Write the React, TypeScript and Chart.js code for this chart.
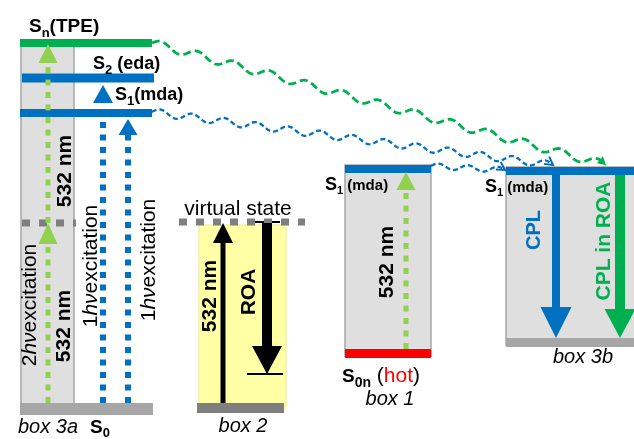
import React, { useEffect, useRef } from "react";
import { Chart, registerables } from "chart.js";

Chart.register(...registerables);

// ---------------- DATA (diagram units: x to the right, y = energy axis drawn top→bottom) ----------------
const X_MIN = 0;
const X_MAX = 634;
const Y_MIN = 0;
const Y_MAX = 439;

// Energy levels / horizontal state lines
const levelNames = [
  "Sn(TPE)", "S2 (eda)", "S1 (mda) 3a", "S0 3a", "S0 box2", "S1 box1",
  "S0n box1", "S1 box3b", "S0 box3b", "virtual 3a", "virtual box2", "ROA top", "ROA end",
];
const levelX0 = [20, 22, 20, 20, 197, 345, 345, 506, 506, 22, 179, 248, 247];
const levelX1 = [152, 154, 152, 153, 284, 431, 431, 640, 640, 76, 305, 280, 283];
const levelY = [43, 78, 113, 409, 408, 169, 353.5, 171, 342.5, 223, 222, 222, 374];

// Boxes
const boxNames = ["box 3a", "box 2", "box 1", "box 3b"];
const boxX0 = [21, 199, 345, 506];
const boxX1 = [74, 286, 431, 640];
const boxTop = [46, 225, 165, 167];
const boxBottom = [404, 408, 356, 345];

// Vertical transitions (arrows): x, start level, tip level
const arrowNames = [
  "2hv lower", "2hv upper", "1hv to S2", "1hv to S1", "532 nm box2",
  "ROA", "532 nm box1", "CPL", "CPL in ROA",
];
const arrowX = [48, 48, 103, 128, 223, 267, 406, 556, 620];
const arrowFrom = [403, 223, 403, 403, 403, 223, 349, 175, 175];
const arrowTo = [223, 44, 85, 119, 223, 374, 172, 338, 338];

// Wavy (non-radiative / transfer) connectors
const waveNames = ["Sn -> S1 box3b", "S1 mda -> S1 box3b", "S1 box1 -> S1 box3b"];
const waveX0 = [152, 152, 431];
const waveY0 = [43, 112, 166];
const waveX1 = [606, 553, 505];
const waveY1 = [165, 165, 170];
const waveCount = [12.5, 12.5, 2.5];

// Plain labels
const plainTexts = ["virtual state", "box 3a", "box 2", "box 1", "box 3b"];
const plainX = [238, 18, 243, 390, 583];
const plainY = [215, 433, 432, 405, 363];

// State labels: main letter, subscript, tail
const stateMain = ["S", "S", "S", "S", "S", "S", "S"];
const stateSub = ["n", "2", "1", "1", "1", "0", "0n"];
const stateTail = ["(TPE)", " (eda)", "(mda)", " (mda)", " (mda)", "", " ("];
const stateX = [29, 93, 115, 325, 485, 90, 342];
const stateY = [32, 69, 100, 190, 192, 433, 382];

// Rotated labels (centre positions)
const rotTexts = [
  "2hv excitation", "532 nm", "532 nm", "1hv excitation", "1hv excitation",
  "532 nm", "ROA", "532 nm", "CPL", "CPL in ROA",
];
const rotX = [28, 62, 63, 89, 147, 208, 247, 385, 533, 602];
const rotY = [305, 326, 171, 266, 260, 296, 292, 262, 230, 241];

// ---------------- STYLES ----------------
const GREEN = "#00B050";
const LGREEN = "#92D050";
const BLUE = "#0070C0";
const RED = "#FF0000";
const GRAY = "#A6A6A6";
const DGRAY = "#7F7F7F";
const FONT = '"Liberation Sans", Arial, sans-serif';

const levelStyle = [
  { c: GREEN, w: 8 }, { c: BLUE, w: 9 }, { c: BLUE, w: 8 }, { c: GRAY, w: 12 },
  { c: DGRAY, w: 10 }, { c: BLUE, w: 8 }, { c: RED, w: 9 }, { c: BLUE, w: 8 },
  { c: GRAY, w: 9 }, { c: DGRAY, w: 7, dash: [8, 9] }, { c: DGRAY, w: 7, dash: [8, 9] },
  { c: "#000", w: 2 }, { c: "#000", w: 2 },
];
const boxStyle = [
  { fill: "#DFDFDF", border: GRAY },
  { fill: "#FFFFA6", border: "#F2F2B0" },
  { fill: "#DFDFDF", border: GRAY },
  { fill: "#DFDFDF", border: GRAY },
];
const arrowStyle = [
  { c: LGREEN, w: 5, dash: [6, 6.5], hl: 21, hw: 19 },
  { c: LGREEN, w: 5, dash: [6, 6.5], hl: 19, hw: 19 },
  { c: BLUE, w: 6, dash: [6, 6.5], hl: 18, hw: 20 },
  { c: BLUE, w: 6, dash: [6, 6.5], hl: 16, hw: 19 },
  { c: "#000", w: 5, hl: 20, hw: 20 },
  { c: "#000", w: 10, hl: 28, hw: 30 },
  { c: LGREEN, w: 5, dash: [6, 6.5], hl: 18, hw: 19 },
  { c: BLUE, w: 8, hl: 31, hw: 31 },
  { c: GREEN, w: 10, hl: 29, hw: 31 },
];
const waveStyle = [
  { c: GREEN, w: 2.8, dash: [8, 4], amp: 4, head: "fill" },
  { c: BLUE, w: 2.3, dash: [5, 3], amp: 3.6, head: "open" },
  { c: BLUE, w: 2.3, dash: [5, 3], amp: 2.8, head: "open" },
];
const stateStyle = [
  { s: 19, sub: 13, t: 19, dy: 5 },
  { s: 18, sub: 13, t: 18, dy: 5 },
  { s: 18, sub: 13, t: 18, dy: 5 },
  { s: 18, sub: 11, t: 15, dy: 4 },
  { s: 18, sub: 11, t: 15, dy: 4 },
  { s: 19, sub: 13, t: 19, dy: 4 },
  { s: 19, sub: 14, t: 21, dy: 5 },
];
const plainStyle = [
  { size: 21, italic: false },
  { size: 20, italic: true },
  { size: 20, italic: true },
  { size: 20, italic: true },
  { size: 20, italic: true },
];
const rotStyle = [
  { size: 21, bold: false, c: "#000", hv: true },
  { size: 21, bold: true, c: "#000" },
  { size: 21, bold: true, c: "#000" },
  { size: 21, bold: false, c: "#000", hv: true },
  { size: 21, bold: false, c: "#000", hv: true },
  { size: 21, bold: true, c: "#000" },
  { size: 21, bold: true, c: "#000" },
  { size: 21, bold: true, c: "#000" },
  { size: 20, bold: true, c: BLUE },
  { size: 21, bold: true, c: GREEN },
];

type Seg = { t: string; font: string; color?: string; dy?: number };

function drawSegs(ctx: CanvasRenderingContext2D, segs: Seg[], x: number, y: number, center: boolean, rot = 0, vshift = 0) {
  ctx.save();
  ctx.translate(x, y);
  if (rot) ctx.rotate(rot);
  ctx.textAlign = "left";
  ctx.textBaseline = "alphabetic";
  let total = 0;
  const widths = segs.map((s) => {
    ctx.font = s.font;
    const w = ctx.measureText(s.t).width;
    total += w;
    return w;
  });
  let cx = center ? -total / 2 : 0;
  segs.forEach((s, i) => {
    ctx.font = s.font;
    ctx.fillStyle = s.color || "#000";
    ctx.fillText(s.t, cx, (s.dy || 0) + vshift);
    cx += widths[i];
  });
  ctx.restore();
}

const f = (size: number, bold = false, italic = false) =>
  `${italic ? "italic " : ""}${bold ? "bold " : ""}${size}px ${FONT}`;

const diagramPlugin = {
  id: "diagram",
  beforeDatasetsDraw(chart: any) {
    const ctx: CanvasRenderingContext2D = chart.ctx;
    const xs = chart.scales.x, ys = chart.scales.y;
    ctx.save();
    boxNames.forEach((_, i) => {
      const x0 = xs.getPixelForValue(boxX0[i]);
      const x1 = xs.getPixelForValue(boxX1[i]);
      const y0 = ys.getPixelForValue(boxTop[i]);
      const y1 = ys.getPixelForValue(boxBottom[i]);
      ctx.fillStyle = boxStyle[i].fill;
      ctx.fillRect(x0, y0, x1 - x0, y1 - y0);
      ctx.strokeStyle = boxStyle[i].border;
      ctx.lineWidth = 1.5;
      ctx.strokeRect(x0, y0, x1 - x0, y1 - y0);
    });
    ctx.restore();
  },
  afterDatasetsDraw(chart: any) {
    const ctx: CanvasRenderingContext2D = chart.ctx;
    const xs = chart.scales.x, ys = chart.scales.y;
    ctx.save();
    // arrow heads
    arrowNames.forEach((_, i) => {
      const st = arrowStyle[i];
      const x = xs.getPixelForValue(arrowX[i]);
      const tip = ys.getPixelForValue(arrowTo[i]);
      const dir = Math.sign(ys.getPixelForValue(arrowTo[i]) - ys.getPixelForValue(arrowFrom[i]));
      const base = tip - dir * st.hl;
      ctx.beginPath();
      ctx.moveTo(x, tip);
      ctx.lineTo(x - st.hw / 2, base);
      ctx.lineTo(x + st.hw / 2, base);
      ctx.closePath();
      ctx.fillStyle = st.c;
      ctx.fill();
    });
    // wavy connectors
    waveNames.forEach((_, i) => {
      const st = waveStyle[i];
      const N = 500;
      const pts: [number, number][] = [];
      for (let k = 0; k <= N; k++) {
        const t = k / N;
        const x = waveX0[i] + (waveX1[i] - waveX0[i]) * t;
        const y = waveY0[i] + (waveY1[i] - waveY0[i]) * t - st.amp * Math.sin(2 * Math.PI * waveCount[i] * t);
        pts.push([xs.getPixelForValue(x), ys.getPixelForValue(y)]);
      }
      ctx.save();
      ctx.setLineDash(st.dash);
      ctx.lineWidth = st.w;
      ctx.strokeStyle = st.c;
      ctx.beginPath();
      pts.forEach((p, k) => (k ? ctx.lineTo(p[0], p[1]) : ctx.moveTo(p[0], p[1])));
      ctx.stroke();
      ctx.setLineDash([]);
      const [ex, ey] = pts[N];
      const [bx, by] = pts[N - 6];
      const a = Math.atan2(ey - by, ex - bx);
      const L = 8, W = 4.5;
      const lx = ex - L * Math.cos(a), ly = ey - L * Math.sin(a);
      const nx = -Math.sin(a), ny = Math.cos(a);
      ctx.beginPath();
      ctx.moveTo(lx + nx * W, ly + ny * W);
      ctx.lineTo(ex, ey);
      ctx.lineTo(lx - nx * W, ly - ny * W);
      if (st.head === "fill") {
        ctx.closePath();
        ctx.fillStyle = st.c;
        ctx.fill();
      } else {
        ctx.lineWidth = 2;
        ctx.stroke();
      }
      ctx.restore();
    });
    // plain labels
    plainTexts.forEach((t, i) => {
      const st = plainStyle[i];
      drawSegs(ctx, [{ t, font: f(st.size, false, st.italic) }],
        xs.getPixelForValue(plainX[i]), ys.getPixelForValue(plainY[i]), i !== 1);
    });
    // state labels
    stateMain.forEach((m, i) => {
      const st = stateStyle[i];
      const segs: Seg[] = [
        { t: m, font: f(st.s, true) },
        { t: stateSub[i], font: f(st.sub, true), dy: st.dy },
      ];
      if (i === 6) {
        segs.push({ t: stateTail[i], font: f(st.t) });
        segs.push({ t: "hot", font: f(st.t), color: RED });
        segs.push({ t: ")", font: f(st.t) });
      } else if (stateTail[i]) {
        segs.push({ t: stateTail[i], font: f(st.t, true) });
      }
      drawSegs(ctx, segs, xs.getPixelForValue(stateX[i]), ys.getPixelForValue(stateY[i]), false);
    });
    // rotated labels
    rotTexts.forEach((t, i) => {
      const st = rotStyle[i];
      let segs: Seg[];
      if (st.hv) {
        const lead = t.slice(0, 1);
        segs = [
          { t: lead, font: f(st.size) },
          { t: "h\u03BD", font: f(st.size, false, true) },
          { t: "excitation", font: f(st.size) },
        ];
      } else {
        segs = [{ t, font: f(st.size, st.bold), color: st.c }];
      }
      drawSegs(ctx, segs, xs.getPixelForValue(rotX[i]), ys.getPixelForValue(rotY[i]), true, -Math.PI / 2, st.size * 0.36);
    });
    ctx.restore();
  },
};

export default function App() {
  const ref = useRef<HTMLCanvasElement | null>(null);
  useEffect(() => {
    document.body.style.margin = "0";
    if (!ref.current) return;
    const datasets: any[] = [];
    levelNames.forEach((name, i) => {
      const st: any = levelStyle[i];
      datasets.push({
        label: name,
        data: [{ x: levelX0[i], y: levelY[i] }, { x: levelX1[i], y: levelY[i] }],
        showLine: true,
        borderColor: st.c,
        borderWidth: st.w,
        borderDash: st.dash || [],
        borderCapStyle: "butt",
        pointRadius: 0,
        fill: false,
        order: 3,
      });
    });
    arrowNames.forEach((name, i) => {
      const st: any = arrowStyle[i];
      const dir = Math.sign(arrowTo[i] - arrowFrom[i]);
      datasets.push({
        label: name,
        data: [{ x: arrowX[i], y: arrowFrom[i] }, { x: arrowX[i], y: arrowTo[i] - dir * (st.hl - 1) }],
        showLine: true,
        borderColor: st.c,
        borderWidth: st.w,
        borderDash: st.dash || [],
        borderCapStyle: "butt",
        pointRadius: 0,
        fill: false,
        order: 1,
      });
    });
    const chart = new Chart(ref.current, {
      type: "scatter",
      data: { datasets },
      options: {
        animation: false,
        responsive: false,
        devicePixelRatio: 1,
        layout: { padding: 0 },
        plugins: { legend: { display: false }, tooltip: { enabled: false } },
        scales: {
          x: { type: "linear", min: X_MIN, max: X_MAX, display: false },
          y: { type: "linear", min: Y_MIN, max: Y_MAX, reverse: true, display: false },
        },
      },
      plugins: [diagramPlugin],
    } as any);
    return () => chart.destroy();
  }, []);
  return (
    <div style={{ position: "absolute", left: 0, top: 0, width: 634, height: 439, background: "#fff" }}>
      <canvas ref={ref} width={634} height={439} style={{ width: 634, height: 439, display: "block" }} />
    </div>
  );
}
